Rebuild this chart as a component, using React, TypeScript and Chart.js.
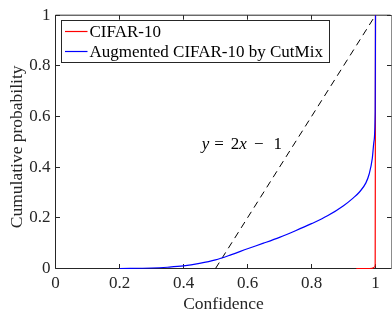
import React, { useEffect, useRef } from 'react';
import { Chart, registerables } from 'chart.js';

Chart.register(...registerables);

// ---- data ----
const xTicks = [0, 0.2, 0.4, 0.6, 0.8, 1];
const xTickLabels = ['0', '0.2', '0.4', '0.6', '0.8', '1'];
const yTicks = [0, 0.2, 0.4, 0.6, 0.8, 1];
const yTickLabels = ['0', '0.2', '0.4', '0.6', '0.8', '1'];

const seriesLabels = ['CIFAR-10', 'Augmented CIFAR-10 by CutMix'];
const seriesColors = ['#ff0000', '#0000ff'];

const cifarX = [0.94, 0.97, 0.99, 0.996, 0.999, 1.0];
const cifarY = [0, 0, 0.001, 0.005, 0.015, 1.0];

const cutmixX = [0.2, 0.3, 0.35, 0.4, 0.45, 0.5, 0.55, 0.6, 0.65, 0.7, 0.75, 0.8, 0.85, 0.9, 0.93, 0.95, 0.97, 0.98, 0.99, 0.995, 0.999, 1.0];
const cutmixY = [0, 0.002, 0.005, 0.01, 0.02, 0.034, 0.055, 0.078, 0.1, 0.123, 0.149, 0.177, 0.208, 0.248, 0.278, 0.302, 0.338, 0.372, 0.435, 0.5, 0.62, 1.0];

const refX = [0.5, 1.0];
const refY = [0, 1];

const xTitle = 'Confidence';
const yTitle = 'Cumulative probability';

// annotation "y = 2x − 1" pieces: [text, italic]
const annotationPieces: [string, boolean][] = [['y', true], ['=', false], ['2', false], ['x', true], ['−', false], ['1', false]];
const annotationGaps = [5, 7, 0, 7, 10];
const annotationAt = { x: 0.457, y: 0.47 };

const SERIF = "'Liberation Serif', 'Times New Roman', 'DejaVu Serif', serif";
const TEXT = '#262626';

const framePlugin = {
  id: 'frame',
  beforeDatasetsDraw(chart: any) {
    const { ctx, chartArea } = chart;
    const { left, right, top, bottom } = chartArea;
    const xs = chart.scales.x;
    const ys = chart.scales.y;
    const crisp = (p: number) => Math.round(p - 0.5) + 0.5;
    ctx.save();
    ctx.setLineDash([]);
    ctx.lineWidth = 1;
    ctx.strokeStyle = TEXT;
    ctx.beginPath();
    ctx.moveTo(left, bottom);
    ctx.lineTo(left, top);
    ctx.lineTo(right - 1, top);
    ctx.moveTo(left, bottom);
    ctx.lineTo(right - 1, bottom);
    ctx.stroke();
    ctx.strokeStyle = '#8c8c8c';
    ctx.beginPath();
    ctx.moveTo(right, top);
    ctx.lineTo(right, bottom);
    ctx.stroke();
    ctx.strokeStyle = TEXT;
    ctx.beginPath();
    const tl = 4.5;
    xTicks.forEach((v) => {
      const px = crisp(xs.getPixelForValue(v));
      ctx.moveTo(px, bottom);
      ctx.lineTo(px, bottom - tl);
      ctx.moveTo(px, top);
      ctx.lineTo(px, top + tl);
    });
    yTicks.forEach((v) => {
      const py = crisp(ys.getPixelForValue(v));
      ctx.moveTo(left, py);
      ctx.lineTo(left + tl, py);
      ctx.moveTo(right, py);
      ctx.lineTo(right - tl, py);
    });
    ctx.stroke();
    ctx.restore();
  },
  afterDraw(chart: any) {
    const { ctx, chartArea } = chart;
    const xs = chart.scales.x;
    const ys = chart.scales.y;
    ctx.save();
    ctx.setLineDash([]);
    // y axis title
    ctx.save();
    ctx.translate(17.6, (chartArea.top + chartArea.bottom) / 2 + 5);
    ctx.rotate(-Math.PI / 2);
    ctx.font = `17.5px ${SERIF}`;
    ctx.fillStyle = TEXT;
    ctx.textAlign = 'center';
    ctx.textBaseline = 'middle';
    ctx.fillText(yTitle, 0, 0);
    ctx.restore();
    // annotation
    let ax = xs.getPixelForValue(annotationAt.x);
    const ay = ys.getPixelForValue(annotationAt.y);
    ctx.fillStyle = '#000';
    ctx.textBaseline = 'alphabetic';
    ctx.textAlign = 'left';
    annotationPieces.forEach(([t, it], i) => {
      ctx.font = `${it ? 'italic ' : ''}17px ${SERIF}`;
      ctx.fillText(t, ax, ay);
      ax += ctx.measureText(t).width + (i < annotationGaps.length ? annotationGaps[i] : 0);
    });
    // legend
    const bx = 61.5, by = 20.5, bw = 268, bh = 42;
    ctx.fillStyle = '#fff';
    ctx.fillRect(bx, by, bw, bh);
    ctx.strokeStyle = TEXT;
    ctx.lineWidth = 1;
    ctx.strokeRect(bx, by, bw, bh);
    const rows = [31.5, 51.5];
    seriesLabels.forEach((label, i) => {
      ctx.strokeStyle = seriesColors[i];
      ctx.lineWidth = 1.2;
      ctx.beginPath();
      ctx.moveTo(65, rows[i]);
      ctx.lineTo(87.5, rows[i]);
      ctx.stroke();
      ctx.fillStyle = '#000';
      ctx.font = `17px ${SERIF}`;
      ctx.textBaseline = 'middle';
      ctx.textAlign = 'left';
      ctx.fillText(label, 89.5, rows[i] + 1);
    });
    ctx.restore();
  },
};

export default function App() {
  const ref = useRef<HTMLCanvasElement>(null);
  useEffect(() => {
    if (!ref.current) return;
    const chart = new Chart(ref.current, {
      type: 'line',
      data: {
        datasets: [
          {
            label: seriesLabels[0],
            data: cifarX.map((x, i) => ({ x, y: cifarY[i] })),
            borderColor: seriesColors[0],
            borderWidth: 1.2,
            pointRadius: 0,
            cubicInterpolationMode: 'monotone',
            clip: false as any,
            order: 1,
          },
          {
            label: seriesLabels[1],
            data: cutmixX.map((x, i) => ({ x, y: cutmixY[i] })),
            borderColor: seriesColors[1],
            borderWidth: 1.2,
            pointRadius: 0,
            cubicInterpolationMode: 'monotone',
            clip: false as any,
            order: 0,
          },
          {
            label: 'y = 2x - 1',
            data: refX.map((x, i) => ({ x, y: refY[i] })),
            borderColor: '#000',
            borderWidth: 1,
            borderDash: [7, 5],
            pointRadius: 0,
            clip: false as any,
            order: 2,
          },
        ],
      },
      options: {
        animation: false,
        responsive: false,
        devicePixelRatio: 1,
        layout: { padding: { left: 0, top: 14.5, right: 0.5, bottom: 0 } },
        plugins: { legend: { display: false }, tooltip: { enabled: false } },
        scales: {
          x: {
            type: 'linear',
            min: 0,
            max: 1.05,
            grid: { display: false, drawTicks: false },
            border: { display: false },
            afterFit: (s: any) => { s.height = 44.5; },
            afterBuildTicks: (s: any) => { s.ticks = xTicks.map((v) => ({ value: v })); },
            ticks: {
              padding: 5,
              color: TEXT,
              font: { family: SERIF, size: 17 },
              maxRotation: 0,
              callback: (_v: any, i: number) => xTickLabels[i],
            },
            title: {
              display: true,
              text: xTitle,
              color: TEXT,
              font: { family: SERIF, size: 17.5, lineHeight: 1 },
              padding: { top: 0, bottom: 0 },
            },
          },
          y: {
            type: 'linear',
            min: 0,
            max: 1,
            grid: { display: false, drawTicks: false },
            border: { display: false },
            afterFit: (s: any) => { s.width = 55.5; },
            afterBuildTicks: (s: any) => { s.ticks = yTicks.map((v) => ({ value: v })); },
            ticks: {
              padding: 5,
              color: TEXT,
              font: { family: SERIF, size: 17 },
              callback: (_v: any, i: number) => yTickLabels[i],
            },
            title: { display: false },
          },
        },
      },
      plugins: [framePlugin],
    });
    return () => chart.destroy();
  }, []);
  return (
    <div style={{ position: 'absolute', left: 0, top: 0, width: 392, height: 313, background: '#fff' }}>
      <canvas ref={ref} width={392} height={313} style={{ display: 'block', width: 392, height: 313 }} />
    </div>
  );
}
